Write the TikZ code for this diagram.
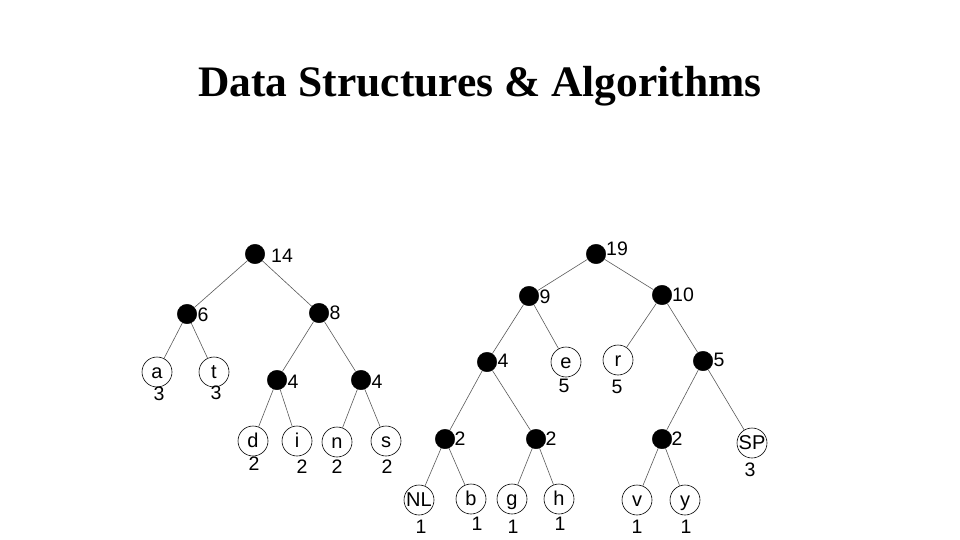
\documentclass[tikz,border=0pt]{standalone}
\usepackage{fontspec}
\setmainfont{Liberation Sans}
\newfontfamily\titlefont{Liberation Serif}
\begin{document}
\begin{tikzpicture}[x=1pt,y=-1pt,
  inode/.style={circle,fill=black,draw=black,minimum size=19.5pt,inner sep=0pt},
  leaf/.style={circle,draw=black,line width=0.6pt,minimum size=30pt,inner sep=0pt,text height=12pt,text depth=0pt,font=\fontsize{20}{20}\selectfont},
  wt/.style={inner sep=0pt,font=\fontsize{19.5}{19.5}\selectfont},
  edge/.style={draw=black!65,line width=0.6pt}]
\useasboundingbox (0,0) rectangle (960,540);
\node[font=\titlefont\bfseries\fontsize{43.5}{43.5}\selectfont,anchor=base] (title) at (480,97) {Data Structures \& Algorithms};
% left tree
\node[inode] (n14) at (255,254) {};
\node[inode] (n6) at (187,314) {};
\node[inode] (n8) at (319,313) {};
\node[leaf] (a) at (157,372) {a};
\node[leaf] (t) at (214,372) {t};
\node[inode] (n4a) at (277,380) {};
\node[inode] (n4b) at (361,380) {};
\node[leaf] (d) at (253,441) {d};
\node[leaf] (i) at (297,441) {i};
\node[leaf] (n) at (337,442) {n};
\node[leaf] (s) at (386,441) {s};
% right tree
\node[inode] (n19) at (596,254) {};
\node[inode] (n9) at (529,296) {};
\node[inode] (n10) at (662,295) {};
\node[inode] (n4c) at (487,362) {};
\node[leaf] (e) at (566,362) {e};
\node[leaf] (r) at (618,360) {r};
\node[inode] (n5) at (703,361) {};
\node[inode] (n2a) at (445,439) {};
\node[inode] (n2b) at (536,439) {};
\node[inode] (n2c) at (662,439) {};
\node[leaf] (sp) at (752,443) {SP};
\node[leaf] (nl) at (419,500) {NL};
\node[leaf] (b) at (471,499) {b};
\node[leaf] (g) at (512,499) {g};
\node[leaf] (h) at (559,499) {h};
\node[leaf] (v) at (637,500) {v};
\node[leaf] (y) at (685,500) {y};
% weights of internal nodes
\node[wt] (w14) at (282,256) {14};
\node[wt] (w6) at (203,315) {6};
\node[wt] (w8) at (335,313) {8};
\node[wt] (w4a) at (293,382) {4};
\node[wt] (w4b) at (377,382) {4};
\node[wt] (w19) at (617,249) {19};
\node[wt] (w9) at (545,297) {9};
\node[wt] (w10) at (683,295) {10};
\node[wt] (w4c) at (503,361) {4};
\node[wt] (w5) at (719,360) {5};
\node[wt] (w2a) at (460,439) {2};
\node[wt] (w2b) at (551,439) {2};
\node[wt] (w2c) at (677,439) {2};
% weights of leaves
\node[wt] (wa) at (159,394) {3};
\node[wt] (wt) at (216,393) {3};
\node[wt] (wd) at (254,464) {2};
\node[wt] (wi) at (302,467) {2};
\node[wt] (wn) at (337,467) {2};
\node[wt] (ws) at (387,467) {2};
\node[wt] (we) at (564,386) {5};
\node[wt] (wr) at (617,387) {5};
\node[wt] (wsp) at (750,470) {3};
\node[wt] (wnl) at (421,527) {1};
\node[wt] (wb) at (477,524) {1};
\node[wt] (wg) at (513,527) {1};
\node[wt] (wh) at (560,524) {1};
\node[wt] (wv) at (637,527) {1};
\node[wt] (wy) at (686,527) {1};
% edges
\path[edge] (n14) -- (n6) (n14) -- (n8) (n6) -- (a) (n6) -- (t)
  (n8) -- (n4a) (n8) -- (n4b) (n4a) -- (d) (n4a) -- (i) (n4b) -- (n) (n4b) -- (s)
  (n19) -- (n9) (n19) -- (n10) (n9) -- (n4c) (n9) -- (e) (n10) -- (r) (n10) -- (n5)
  (n4c) -- (n2a) (n4c) -- (n2b) (n5) -- (n2c) (n5) -- (sp)
  (n2a) -- (nl) (n2a) -- (b) (n2b) -- (g) (n2b) -- (h) (n2c) -- (v) (n2c) -- (y);
\end{tikzpicture}
\end{document}
